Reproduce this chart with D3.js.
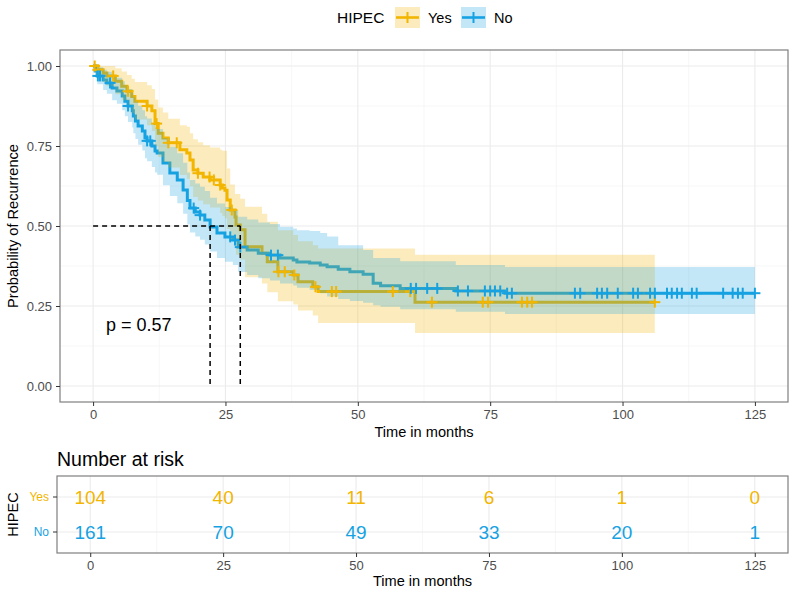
<!DOCTYPE html>
<html>
<head>
<meta charset="utf-8">
<script src="https://cdn.jsdelivr.net/npm/d3@7"></script>
<style>
  body { margin: 0; background: #fff; }
  svg { font-family: "Liberation Sans", Arial, sans-serif; }
</style>
</head>
<body>
<div id="km"></div>
<script>
// Kaplan-Meier steps (time in months, probability)
const yesTime  = [0, 0.9, 1.9, 2.6, 4.2, 5.4, 6.4, 7.3, 7.9, 10.2, 11.1, 11.7, 12.3, 13.2, 14.2, 16.4, 17.7, 18.3, 18.9, 19.8, 20.8, 22.1, 24.0, 24.4, 24.9, 25.3, 25.9, 26.8, 27.0, 27.8, 28.7, 31.9, 32.9, 34.9, 37.8, 38.7, 41.5, 42.5, 60.8];
const yesSurv  = [1, 0.988, 0.978, 0.969, 0.952, 0.937, 0.921, 0.905, 0.890, 0.875, 0.860, 0.820, 0.790, 0.775, 0.760, 0.738, 0.728, 0.706, 0.675, 0.665, 0.653, 0.644, 0.628, 0.619, 0.612, 0.581, 0.550, 0.528, 0.503, 0.488, 0.435, 0.415, 0.388, 0.357, 0.347, 0.326, 0.310, 0.295, 0.262];
const yesLower = [1, 0.966, 0.95, 0.937, 0.912, 0.893, 0.872, 0.852, 0.833, 0.815, 0.797, 0.75, 0.716, 0.70, 0.683, 0.659, 0.648, 0.624, 0.591, 0.58, 0.568, 0.558, 0.541, 0.531, 0.524, 0.491, 0.458, 0.436, 0.41, 0.395, 0.34, 0.32, 0.293, 0.265, 0.255, 0.236, 0.22, 0.197, 0.166];
const yesUpper = [1, 1, 1, 1, 0.993, 0.983, 0.972, 0.96, 0.95, 0.94, 0.928, 0.895, 0.87, 0.855, 0.835, 0.815, 0.81, 0.79, 0.771, 0.762, 0.752, 0.745, 0.738, 0.735, 0.735, 0.68, 0.63, 0.60, 0.60, 0.585, 0.56, 0.538, 0.513, 0.487, 0.472, 0.452, 0.44, 0.43, 0.41];
const yesEnd = 106.1;
const yesCensor = [0.3, 0.9, 3.8, 6.6, 10.2, 12.0, 14.2, 15.8, 19.8, 22.0, 22.8, 24.0, 26.2, 35.0, 36.2, 38.0, 42.0, 45.1, 45.9, 56.6, 59.9, 64.0, 73.6, 74.6, 81.0, 82.0, 82.9, 106.1];

const noTime  = [0, 0.4, 0.8, 1.9, 2.6, 3.6, 4.5, 5.5, 6.0, 6.6, 7.4, 7.6, 8.0, 8.5, 9.3, 9.8, 10.2, 11.1, 11.7, 12.1, 13.2, 14.5, 15.9, 17.0, 17.8, 18.3, 19.3, 20.2, 21.1, 22.1, 23.4, 24.9, 26.4, 27.4, 29.1, 31.2, 33.4, 35.3, 37.8, 38.5, 40.9, 42.9, 44.2, 46.3, 48.5, 51.0, 52.9, 54.3, 58.0, 68.5, 77.8];
const noSurv  = [1, 0.984, 0.969, 0.956, 0.947, 0.931, 0.922, 0.906, 0.89, 0.875, 0.86, 0.844, 0.828, 0.8125, 0.797, 0.775, 0.766, 0.75, 0.734, 0.728, 0.697, 0.666, 0.644, 0.6125, 0.58, 0.556, 0.544, 0.534, 0.519, 0.497, 0.478, 0.466, 0.456, 0.434, 0.425, 0.415, 0.409, 0.40, 0.394, 0.3875, 0.384, 0.378, 0.373, 0.365, 0.357, 0.349, 0.321, 0.313, 0.305, 0.297, 0.29];
const noLower = [1, 0.965, 0.943, 0.925, 0.913, 0.893, 0.882, 0.862, 0.843, 0.825, 0.808, 0.79, 0.772, 0.754, 0.736, 0.712, 0.702, 0.684, 0.667, 0.66, 0.627, 0.594, 0.571, 0.538, 0.505, 0.48, 0.467, 0.457, 0.442, 0.42, 0.40, 0.388, 0.378, 0.356, 0.347, 0.337, 0.33, 0.32, 0.314, 0.307, 0.30, 0.29, 0.28, 0.272, 0.266, 0.26, 0.252, 0.248, 0.24, 0.232, 0.225];
const noUpper = [1, 1, 0.996, 0.988, 0.982, 0.97, 0.963, 0.952, 0.94, 0.928, 0.916, 0.902, 0.889, 0.876, 0.862, 0.843, 0.836, 0.822, 0.808, 0.803, 0.775, 0.747, 0.727, 0.698, 0.667, 0.644, 0.633, 0.623, 0.609, 0.588, 0.57, 0.559, 0.55, 0.529, 0.52, 0.511, 0.506, 0.498, 0.492, 0.487, 0.484, 0.478, 0.467, 0.44, 0.44, 0.425, 0.40, 0.40, 0.39, 0.378, 0.372];
const noEnd = 125;
const noCensor = [0.9, 1.3, 3.2, 6.6, 10.2, 10.8, 19.0, 20.2, 25.9, 26.8, 27.8, 33.6, 34.9, 60.0, 61.0, 63.1, 65.0, 68.9, 70.8, 74.0, 75.0, 75.9, 76.9, 78.2, 79.1, 91.0, 92.0, 95.2, 96.1, 97.1, 99.1, 102.0, 102.9, 105.2, 106.1, 108.4, 109.3, 110.3, 111.2, 113.1, 114.0, 119.0, 120.8, 121.8, 122.7, 125.0];

// number at risk table
const riskTimes = [0, 25, 50, 75, 100, 125];
const yesRisk = [104, 40, 11, 6, 1, 0];
const noRisk  = [161, 70, 49, 33, 20, 1];

const xTicks = [0, 25, 50, 75, 100, 125];
const yTicks = [0, 0.25, 0.5, 0.75, 1];
const pText = "p = 0.57";

const colYes = "#F2B500", colNo = "#16A2E2";

const W = 795, H = 593;
const svg = d3.select("#km").append("svg")
  .attr("width", W).attr("height", H);

// ---------- main panel ----------
const x = d3.scaleLinear().domain([-6.25, 131.25]).range([60, 788]);
const y = d3.scaleLinear().domain([-0.05, 1.05]).range([402, 50]);

const grid = svg.append("g");
// minor grid
grid.selectAll(".mx").data(d3.range(12.5, 131, 25)).join("line")
  .attr("x1", d => x(d)).attr("x2", d => x(d)).attr("y1", 50).attr("y2", 402)
  .attr("stroke", "#F3F3F3").attr("stroke-width", 0.7);
grid.selectAll(".my").data([0.125, 0.375, 0.625, 0.875]).join("line")
  .attr("y1", d => y(d)).attr("y2", d => y(d)).attr("x1", 60).attr("x2", 788)
  .attr("stroke", "#F3F3F3").attr("stroke-width", 0.7);
// major grid
grid.selectAll(".Mx").data(xTicks).join("line")
  .attr("x1", d => x(d)).attr("x2", d => x(d)).attr("y1", 50).attr("y2", 402)
  .attr("stroke", "#EBEBEB").attr("stroke-width", 1.1);
grid.selectAll(".My").data(yTicks).join("line")
  .attr("y1", d => y(d)).attr("y2", d => y(d)).attr("x1", 60).attr("x2", 788)
  .attr("stroke", "#EBEBEB").attr("stroke-width", 1.1);

function steps(times, surv, lo, hi, end) {
  const pts = times.map((t, i) => ({t: t, s: surv[i], lo: lo[i], hi: hi[i]}));
  const last = pts[pts.length - 1];
  pts.push({t: end, s: last.s, lo: last.lo, hi: last.hi});
  return pts;
}
const yesPts = steps(yesTime, yesSurv, yesLower, yesUpper, yesEnd);
const noPts  = steps(noTime, noSurv, noLower, noUpper, noEnd);

const line = d3.line().x(d => x(d.t)).y(d => y(d.s)).curve(d3.curveStepAfter);
const band = d3.area().x(d => x(d.t)).y0(d => y(d.lo)).y1(d => y(d.hi)).curve(d3.curveStepAfter);

// curves first, ribbons on top (as in the original)
svg.append("path").attr("d", line(yesPts)).attr("fill", "none")
  .attr("stroke", colYes).attr("stroke-width", 3);
svg.append("path").attr("d", line(noPts)).attr("fill", "none")
  .attr("stroke", colNo).attr("stroke-width", 3);
svg.append("path").attr("d", band(yesPts)).attr("fill", colYes).attr("fill-opacity", 0.26);
svg.append("path").attr("d", band(noPts)).attr("fill", colNo).attr("fill-opacity", 0.26);

// censor marks
function survAt(times, surv, t) {
  const i = d3.bisectRight(times, t) - 1;
  return surv[Math.max(0, i)];
}
function marks(list, times, surv, col) {
  const g = svg.append("g").attr("stroke", col).attr("stroke-width", 2);
  list.forEach(t => {
    const cx = x(t), cy = y(survAt(times, surv, t));
    g.append("line").attr("x1", cx).attr("x2", cx).attr("y1", cy - 5.5).attr("y2", cy + 5.5);
    g.append("line").attr("x1", cx - 5.5).attr("x2", cx + 5.5).attr("y1", cy).attr("y2", cy);
  });
}
marks(yesCensor, yesTime, yesSurv, colYes);
marks(noCensor, noTime, noSurv, colNo);

// median lines
const medYes = yesTime[yesSurv.findIndex(s => s <= 0.5)];
const medNo  = noTime[noSurv.findIndex(s => s <= 0.5)];
const dash = svg.append("g").attr("stroke", "#000").attr("stroke-width", 1.5)
  .attr("stroke-dasharray", "5,4").attr("fill", "none");
dash.append("line").attr("x1", x(0)).attr("x2", x(Math.max(medYes, medNo)))
  .attr("y1", y(0.5)).attr("y2", y(0.5));
[medNo, medYes].forEach(m => {
  dash.append("line").attr("x1", x(m)).attr("x2", x(m)).attr("y1", y(0.5)).attr("y2", y(0));
});

svg.append("text").attr("x", 106).attr("y", 331).text(pText)
  .style("font-size", "18px").attr("fill", "#000");

// panel border
svg.append("rect").attr("x", 60).attr("y", 50).attr("width", 728).attr("height", 352)
  .attr("fill", "none").attr("stroke", "#7F7F7F").attr("stroke-width", 1.2);

// axes
const ax = svg.append("g").attr("transform", "translate(0,402)")
  .call(d3.axisBottom(x).tickValues(xTicks).tickSize(4).tickPadding(4));
const ay = svg.append("g").attr("transform", "translate(60,0)")
  .call(d3.axisLeft(y).tickValues(yTicks).tickFormat(d3.format(".2f")).tickSize(4).tickPadding(4));
[ax, ay].forEach(a => {
  a.select(".domain").remove();
  a.selectAll("line").attr("stroke", "#333");
  a.selectAll("text").attr("fill", "#4D4D4D").style("font-size", "13px")
    .style("font-family", "Liberation Sans, Arial, sans-serif");
});

svg.append("text").attr("x", x(62.5)).attr("y", 437).attr("text-anchor", "middle")
  .text("Time in months").style("font-size", "14.6px");
svg.append("text").attr("transform", `translate(18,${y(0.5)}) rotate(-90)`)
  .attr("text-anchor", "middle").text("Probability of Recurrence").style("font-size", "14.6px");

// ---------- legend ----------
const leg = svg.append("g");
leg.append("text").attr("x", 337).attr("y", 22.5).text("HIPEC").style("font-size", "15.5px");
[[395, colYes, "Yes"], [461, colNo, "No"]].forEach(([lx, c, lab]) => {
  leg.append("rect").attr("x", lx).attr("y", 7).attr("width", 25).attr("height", 21)
    .attr("fill", c).attr("fill-opacity", 0.26);
  leg.append("line").attr("x1", lx + 1).attr("x2", lx + 24).attr("y1", 17.5).attr("y2", 17.5)
    .attr("stroke", c).attr("stroke-width", 2.6);
  leg.append("line").attr("x1", lx + 12.5).attr("x2", lx + 12.5).attr("y1", 12).attr("y2", 23)
    .attr("stroke", c).attr("stroke-width", 2);
  leg.append("text").attr("x", lx + 33).attr("y", 22.5).text(lab).style("font-size", "14.5px");
});

// ---------- risk table ----------
const xr = d3.scaleLinear().domain([-6.25, 131.25]).range([57, 788]);
const yr = d3.scaleBand().domain(["Yes", "No"]).range([476, 553]).paddingOuter(0.1);
const rowY = k => yr(k) + yr.bandwidth() / 2;

svg.append("text").attr("x", 57).attr("y", 466).text("Number at risk").style("font-size", "19.5px");

const rg = svg.append("g");
rg.selectAll(".rmx").data(d3.range(12.5, 131, 25)).join("line")
  .attr("x1", d => xr(d)).attr("x2", d => xr(d)).attr("y1", 476).attr("y2", 553)
  .attr("stroke", "#F3F3F3").attr("stroke-width", 0.7);
rg.selectAll(".rMx").data(riskTimes).join("line")
  .attr("x1", d => xr(d)).attr("x2", d => xr(d)).attr("y1", 476).attr("y2", 553)
  .attr("stroke", "#EBEBEB").attr("stroke-width", 1.1);
rg.selectAll(".rMy").data(["Yes", "No"]).join("line")
  .attr("y1", d => rowY(d)).attr("y2", d => rowY(d)).attr("x1", 57).attr("x2", 788)
  .attr("stroke", "#EBEBEB").attr("stroke-width", 1.1);

[["Yes", yesRisk, colYes], ["No", noRisk, colNo]].forEach(([k, vals, c]) => {
  rg.selectAll(null).data(vals).join("text")
    .attr("x", (d, i) => xr(riskTimes[i])).attr("y", rowY(k) + 7)
    .attr("text-anchor", "middle").attr("fill", c).style("font-size", "19px")
    .text(d => d);
});

svg.append("rect").attr("x", 57).attr("y", 476).attr("width", 731).attr("height", 77)
  .attr("fill", "none").attr("stroke", "#7F7F7F").attr("stroke-width", 1.2);

const rax = svg.append("g").attr("transform", "translate(0,553)")
  .call(d3.axisBottom(xr).tickValues(riskTimes).tickSize(4).tickPadding(4));
const ray = svg.append("g").attr("transform", "translate(57,0)")
  .call(d3.axisLeft(yr).tickSize(4).tickPadding(4));
rax.select(".domain").remove();
ray.select(".domain").remove();
rax.selectAll("line").attr("stroke", "#333");
ray.selectAll("line").attr("stroke", "#333");
rax.selectAll("text").attr("fill", "#4D4D4D").style("font-size", "13px")
  .style("font-family", "Liberation Sans, Arial, sans-serif");
ray.selectAll("text").style("font-size", "12px")
  .style("font-family", "Liberation Sans, Arial, sans-serif")
  .attr("fill", d => d === "Yes" ? colYes : colNo);

svg.append("text").attr("x", xr(62.5)).attr("y", 586).attr("text-anchor", "middle")
  .text("Time in months").style("font-size", "14.6px");
svg.append("text").attr("transform", `translate(18,${(476 + 553) / 2}) rotate(-90)`)
  .attr("text-anchor", "middle").text("HIPEC").style("font-size", "14.5px");
</script>
</body>
</html>
